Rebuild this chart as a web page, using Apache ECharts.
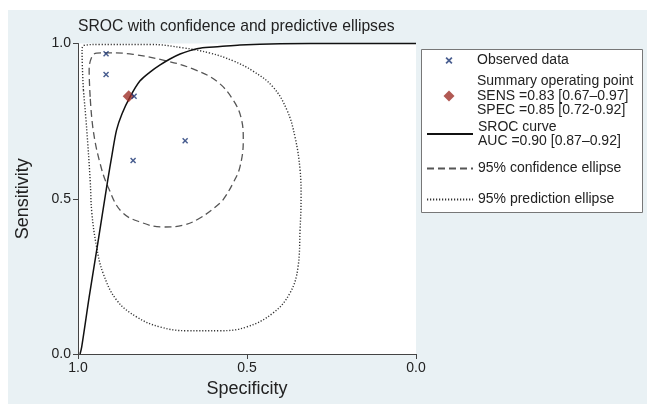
<!DOCTYPE html>
<html>
<head>
<meta charset="utf-8">
<script src="https://cdn.jsdelivr.net/npm/echarts@6/dist/echarts.min.js"></script>
<style>
html,body{margin:0;padding:0;background:#fff;}
#chart{width:647px;height:404px;}
</style>
</head>
<body>
<div id="chart"></div>
<script>
// ---- Data (specificity, sensitivity) ----
const titleText = 'SROC with confidence and predictive ellipses';
const xTickValues = [1.0, 0.5, 0.0];
const yTickValues = [0.0, 0.5, 1.0];

const observedSpec = [0.917, 0.917, 0.834, 0.683, 0.837];
const observedSens = [0.967, 0.900, 0.830, 0.687, 0.623];

const summarySpec = [0.85];
const summarySens = [0.83];

const srocSpec = [0.994, 0.989, 0.967, 0.943, 0.912, 0.899, 0.886, 0.870, 0.846, 0.817, 0.787, 0.757, 0.728, 0.698, 0.669, 0.639, 0.580, 0.521, 0.402, 0.225, 0.0];
const srocSens = [0.000, 0.023, 0.183, 0.346, 0.560, 0.644, 0.721, 0.773, 0.828, 0.879, 0.908, 0.931, 0.950, 0.966, 0.977, 0.985, 0.990, 0.995, 0.999, 1.000, 1.000];

const confSpec = [0.964, 0.967, 0.959, 0.945, 0.905, 0.837, 0.738, 0.660, 0.590, 0.541, 0.516, 0.511, 0.521, 0.541, 0.565, 0.580, 0.639, 0.689, 0.749, 0.808, 0.870, 0.911, 0.935, 0.955, 0.964];
const confSens = [0.828, 0.915, 0.957, 0.969, 0.970, 0.965, 0.944, 0.918, 0.879, 0.818, 0.754, 0.689, 0.602, 0.551, 0.506, 0.486, 0.438, 0.415, 0.409, 0.422, 0.457, 0.538, 0.615, 0.721, 0.828];

const predSpec = [0.984, 0.988, 0.982, 0.935, 0.787, 0.689, 0.609, 0.541, 0.482, 0.423, 0.382, 0.358, 0.343, 0.340, 0.343, 0.349, 0.373, 0.423, 0.501, 0.580, 0.678, 0.757, 0.826, 0.886, 0.926, 0.945, 0.959, 0.964, 0.974, 0.984];
const predSens = [0.850, 0.979, 0.994, 0.997, 0.997, 0.986, 0.969, 0.944, 0.911, 0.860, 0.786, 0.699, 0.593, 0.506, 0.399, 0.280, 0.196, 0.132, 0.087, 0.075, 0.075, 0.087, 0.119, 0.174, 0.261, 0.345, 0.454, 0.560, 0.721, 0.850];

const legendNames = [
  'Observed data',
  'Summary operating point\nSENS =0.83 [0.67\u20130.97]\nSPEC =0.85 [0.72-0.92]',
  'SROC curve\nAUC =0.90 [0.87\u20130.92]',
  '95% confidence ellipse',
  '95% prediction ellipse'
];

function zip(a, b) { return a.map((v, i) => [v, b[i]]); }

const FONT = '"Liberation Sans", Arial, Helvetica, sans-serif';
const crossPath = 'path://M0,1.7L1.7,0L5,3.3L8.3,0L10,1.7L6.7,5L10,8.3L8.3,10L5,6.7L1.7,10L0,8.3L3.3,5Z';
const diamondPath = 'path://M5,0L10,5L5,10L0,5Z';

const chart = echarts.init(document.getElementById('chart'), null, {renderer: 'canvas'});

const LH = 14.5;
const ICON_W = 46;
function legendFor(name, centerY, nLines, iconH, isLine) {
  const blockH = Math.max(nLines * LH, iconH);
  const iconW = isLine ? ICON_W : iconH;
  const cfg = {
    data: [name],
    left: 426 + (ICON_W - iconW) / 2,
    top: centerY - blockH / 2,
    padding: 0,
    itemWidth: ICON_W,
    itemHeight: iconH,
    selectedMode: false,
    textStyle: {fontFamily: FONT, fontSize: 14, color: '#222', lineHeight: LH}
  };
  if (isLine) cfg.itemStyle = {opacity: 0};
  return cfg;
}

const option = {
  animation: false,
  backgroundColor: '#ffffff',
  graphic: [
    {type: 'rect', left: 8, top: 10, z: -10, shape: {width: 639, height: 394}, style: {fill: '#e9f1f4'}},
    {type: 'rect', left: 421, top: 49, z: 1, shape: {width: 221, height: 163}, style: {fill: '#ffffff', stroke: '#777', lineWidth: 1}}
  ],
  title: {
    text: titleText,
    left: 78,
    top: 19,
    padding: 0,
    textStyle: {fontFamily: FONT, fontSize: 15.7, fontWeight: 'normal', color: '#222'}
  },
  legend: [
    legendFor(legendNames[0], 60.5, 1, 7, false),
    legendFor(legendNames[1], 96, 3, 11, false),
    legendFor(legendNames[2], 134, 2, 14, true),
    legendFor(legendNames[3], 168.5, 1, 14, true),
    legendFor(legendNames[4], 199.5, 1, 14, true)
  ],
  grid: {
    left: 78, right: 231, top: 43.5, bottom: 50,
    show: true, backgroundColor: '#ffffff', borderWidth: 0
  },
  xAxis: {
    type: 'value', min: 0, max: 1, interval: 0.5, inverse: true,
    name: 'Specificity', nameLocation: 'middle', nameGap: 23,
    nameTextStyle: {fontFamily: FONT, fontSize: 18, color: '#222'},
    axisLine: {show: true, onZero: false, lineStyle: {color: '#444', width: 1}},
    axisTick: {show: true, inside: false, length: 5, lineStyle: {color: '#444'}},
    axisLabel: {margin: 7, fontFamily: FONT, fontSize: 14, color: '#222',
      formatter: v => xTickValues.includes(v) ? v.toFixed(1) : ''},
    splitLine: {show: false}
  },
  yAxis: {
    type: 'value', min: 0, max: 1, interval: 0.5,
    name: 'Sensitivity', nameLocation: 'middle', nameGap: 46,
    nameTextStyle: {fontFamily: FONT, fontSize: 18, color: '#222'},
    axisLine: {show: true, onZero: false, lineStyle: {color: '#444', width: 1}},
    axisTick: {show: true, inside: false, length: 5, lineStyle: {color: '#444'}},
    axisLabel: {margin: 7, fontFamily: FONT, fontSize: 14, color: '#222',
      formatter: v => yTickValues.includes(v) ? v.toFixed(1) : ''},
    splitLine: {show: false}
  },
  series: [
    {
      name: legendNames[3], type: 'line', data: zip(confSpec, confSens),
      smooth: 0.4, showSymbol: false, symbol: 'none', clip: true,
      lineStyle: {color: '#555', width: 1.3, type: [7, 4]}, z: 2
    },
    {
      name: legendNames[4], type: 'line', data: zip(predSpec, predSens),
      smooth: 0.4, showSymbol: false, symbol: 'none', clip: true,
      lineStyle: {color: '#333', width: 1.4, type: [1.2, 1.8]}, z: 2
    },
    {
      name: legendNames[2], type: 'line', data: zip(srocSpec, srocSens),
      smooth: 0.3, showSymbol: false, symbol: 'none', clip: false,
      lineStyle: {color: '#111', width: 1.5}, z: 3
    },
    {
      name: legendNames[1], type: 'scatter', data: zip(summarySpec, summarySens),
      symbol: diamondPath, symbolSize: 12,
      itemStyle: {color: '#9e2f28'}, z: 4
    },
    {
      name: legendNames[0], type: 'scatter', data: zip(observedSpec, observedSens),
      symbol: crossPath, symbolSize: 6,
      itemStyle: {color: '#1a3473'}, z: 5
    }
  ]
};
chart.setOption(option);
</script>
</body>
</html>
